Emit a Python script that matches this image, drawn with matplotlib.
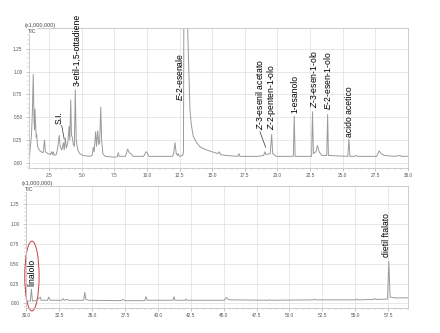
import matplotlib
matplotlib.use("Agg")
import matplotlib.pyplot as plt
from matplotlib.patches import Ellipse
from matplotlib.ticker import MultipleLocator, FormatStrFormatter
import numpy as np

plt.rcParams['font.family'] = ['Liberation Sans', 'DejaVu Sans']
plt.rcParams['mathtext.fontset'] = 'custom'
plt.rcParams['mathtext.it'] = 'Liberation Sans:italic'
plt.rcParams['mathtext.rm'] = 'Liberation Sans'

# TIC trace, 1-30 min (x1,000,000 counts)
rt_top = [1.00, 1.15, 1.22, 1.29, 1.35, 1.39, 1.42, 1.48, 1.52, 1.55, 1.62, 1.75, 1.90, 2.05,
          2.15, 2.22, 2.40, 2.60, 2.70, 2.76, 2.82, 2.90, 3.05, 3.15, 3.28, 3.36, 3.48, 3.60,
          3.66, 3.75, 3.82, 3.94, 4.03, 4.09, 4.16, 4.22, 4.28, 4.36, 4.44, 4.51, 4.58, 4.70,
          4.85, 5.10, 5.60, 5.80, 5.89, 5.96, 6.07, 6.14, 6.23, 6.31, 6.38, 6.46, 6.53, 6.62,
          6.80, 7.60, 7.74, 7.80, 7.87, 8.35, 8.52, 8.65, 8.78, 8.95, 9.75, 9.93, 10.02, 10.15,
          11.95, 12.05, 12.15, 12.25, 12.33, 12.40, 12.48, 12.75, 12.80, 12.86, 12.98, 13.12,
          13.30, 13.40, 13.55, 13.81, 14.10, 14.58, 15.00, 15.45, 15.55, 15.65, 16.00, 16.95,
          17.05, 17.12, 18.50, 18.95, 19.04, 19.12, 19.45, 19.56, 19.64, 19.90, 21.22, 21.29,
          21.36, 22.62, 22.69, 22.76, 22.95, 23.07, 23.20, 23.40, 23.78, 23.85, 23.91, 25.40,
          25.48, 25.56, 25.90, 26.05, 26.15, 27.60, 27.80, 27.95, 28.20, 29.00, 29.40, 29.50,
          30.00]
tic_top = [0.07, 0.30, 0.55, 0.97, 0.45, 0.36, 0.59, 0.38, 0.28, 0.31, 0.18, 0.14, 0.12, 0.11,
           0.25, 0.12, 0.10, 0.09, 0.12, 0.09, 0.12, 0.08, 0.09, 0.15, 0.30, 0.17, 0.14, 0.22,
           0.14, 0.27, 0.16, 0.22, 0.40, 0.25, 0.69, 0.30, 0.28, 0.20, 0.18, 0.80, 0.25, 0.14,
           0.10, 0.08, 0.07, 0.08, 0.17, 0.12, 0.34, 0.18, 0.35, 0.20, 0.22, 0.61, 0.25, 0.10,
           0.07, 0.06, 0.07, 0.11, 0.07, 0.07, 0.15, 0.11, 0.10, 0.07, 0.07, 0.12, 0.11, 0.07,
           0.07, 0.10, 0.22, 0.10, 0.08, 0.10, 0.07, 0.08, 0.12, 3.00, 3.00, 1.48,
           0.58, 0.42, 0.29, 0.22, 0.17, 0.14, 0.12, 0.10, 0.12, 0.09, 0.08, 0.07,
           0.10, 0.07, 0.07, 0.08, 0.12, 0.09, 0.10, 0.31, 0.10, 0.07, 0.07, 0.51,
           0.07, 0.07, 0.56, 0.10, 0.12, 0.19, 0.12, 0.08, 0.08, 0.53, 0.08, 0.07,
           0.26, 0.07, 0.07, 0.08, 0.07, 0.07, 0.13, 0.10, 0.08, 0.07, 0.08, 0.07,
           0.07]

# TIC trace, 30-59 min
rt_bot = [30.00, 30.30, 30.38, 30.46, 30.80, 31.06, 31.12, 31.60, 31.70, 31.80, 32.70, 32.80,
          32.90, 33.10, 33.20, 34.35, 34.44, 34.52, 34.70, 37.20, 37.35, 37.50, 39.00, 39.08,
          39.20, 41.15, 41.22, 41.30, 42.05, 42.12, 42.20, 45.05, 45.20, 45.35, 45.50, 48.40,
          48.50, 48.60, 51.80, 51.90, 52.00, 55.00, 55.10, 55.20, 56.40, 56.50, 56.60, 57.45,
          57.55, 57.65, 58.00, 59.00]
tic_bot = [0.03, 0.03, 0.18, 0.03, 0.04, 0.08, 0.04, 0.04, 0.08, 0.04, 0.04, 0.06,
           0.04, 0.05, 0.04, 0.04, 0.14, 0.05, 0.04, 0.035, 0.05, 0.035, 0.035, 0.085,
           0.04, 0.04, 0.085, 0.04, 0.04, 0.055, 0.04, 0.04, 0.075, 0.05, 0.045, 0.04,
           0.045, 0.04, 0.045, 0.055, 0.045, 0.045, 0.055, 0.045, 0.05, 0.06, 0.05, 0.055,
           0.53, 0.08, 0.07, 0.07]

# compound labels: (text, rt, label base)
names_top = ['S.I.', '3-etil-1,5-ottadiene', r'$\mathit{E}$-2-esenale',
             r'$\mathit{Z}$-3-esenil acetato', r'$\mathit{Z}$-2-penten-1-olo', '1-esanolo',
             r'$\mathit{Z}$-3-esen-1-olo', r'$\mathit{E}$-2-esen-1-olo', 'acido acetico']
rt_lab_top = [3.26, 4.64, 12.53, 18.61, 19.56, 21.35, 22.80, 23.82, 25.50]
base_top = [0.43, 0.84, 0.68, 0.36, 0.36, 0.55, 0.60, 0.58, 0.285]

names_bot = ['linalolo', 'dietil ftalato']
rt_lab_bot = [30.44, 57.37]
base_bot = [0.225, 0.585]

fig = plt.figure(figsize=(4.4, 3.33), dpi=100)
ax1 = fig.add_axes([0.067, 0.4955, 0.860, 0.4205])
ax2 = fig.add_axes([0.060, 0.075, 0.867, 0.3664])

grey = '#9a9a9a'

def style(ax, x0, x1):
    ax.set_xlim(x0, x1)
    ax.set_ylim(-0.058, 1.48)
    ax.xaxis.set_major_locator(MultipleLocator(2.5))
    ax.xaxis.set_minor_locator(MultipleLocator(0.5))
    ax.yaxis.set_major_locator(MultipleLocator(0.25))
    ax.yaxis.set_minor_locator(MultipleLocator(0.05))
    ax.xaxis.set_major_formatter(FormatStrFormatter('%.1f'))
    ax.yaxis.set_major_formatter(FormatStrFormatter('%.2f'))
    ax.set_yticks([0, 0.25, 0.5, 0.75, 1.0, 1.25])
    ax.grid(True, which='major', color='#e4e4e4', lw=0.6)
    ax.set_axisbelow(True)
    for s in ax.spines.values():
        s.set_color('#c4c4c4')
        s.set_linewidth(0.6)
    ax.tick_params(which='major', length=2, width=0.4, color='#999999',
                   labelsize=3.4, labelcolor='#555555', pad=1.5)
    ax.tick_params(which='minor', length=1.2, width=0.3, color='#aaaaaa')
    ax.tick_params(axis='y', pad=3)

style(ax1, 1.0, 30.0)
style(ax2, 30.0, 59.0)

ax1.plot(rt_top, tic_top, color=grey, lw=0.7)
ax2.plot(rt_bot, tic_bot, color=grey, lw=0.7)

for ax in (ax1, ax2):
    ax.text(-0.012, 1.0, '(x1,000,000)', transform=ax.transAxes, fontsize=3.9,
            color='#444444', ha='left', va='bottom',
            bbox=dict(facecolor='white', edgecolor='none', pad=0.3))
    ax.text(-0.005, 0.995, 'TIC', transform=ax.transAxes, fontsize=3.9,
            color='#444444', ha='left', va='top',
            bbox=dict(facecolor='white', edgecolor='none', pad=0.3))

for name, t, b in zip(names_top, rt_lab_top, base_top):
    ax1.text(t, b, name, rotation=90, ha='center', va='bottom', fontsize=6.2,
             color='black', clip_on=False)
for name, t, b in zip(names_bot, rt_lab_bot, base_bot):
    ax2.text(t, b, name, rotation=90, ha='center', va='bottom', fontsize=6.2,
             color='black', clip_on=False)

# leader lines for the crowded labels
ax1.plot([3.47, 3.66], [0.41, 0.26], color='#333333', lw=0.5)
ax1.plot([18.66, 19.10], [0.34, 0.17], color='#333333', lw=0.5)

ax2.add_patch(Ellipse((30.42, 0.345), 1.09, 0.88, fill=False, edgecolor='#c84040',
                      lw=0.7, clip_on=False))

fig.savefig('out.png', dpi=100, facecolor='white')
